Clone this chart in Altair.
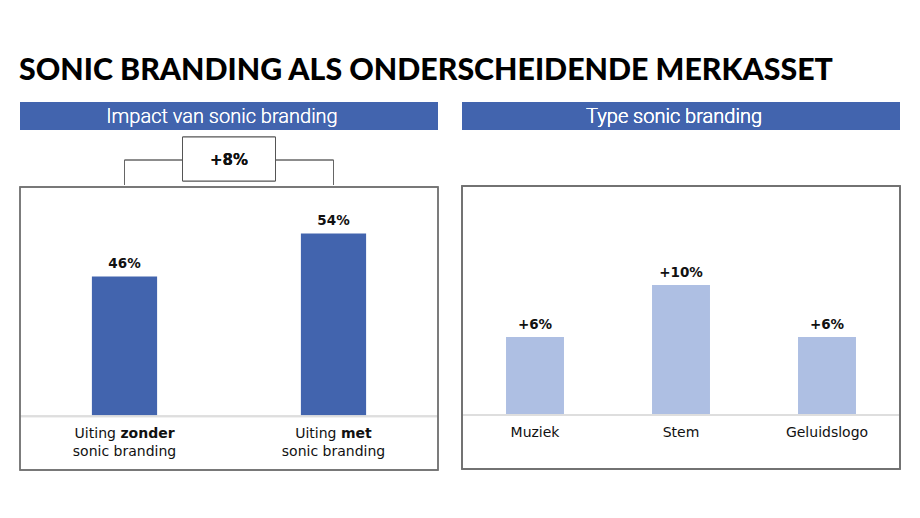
import altair as alt
import pandas as pd

# ---------------- data ----------------
title_text = "SONIC BRANDING ALS ONDERSCHEIDENDE MERKASSET"
head_left = "Impact van sonic branding"
head_right = "Type sonic branding"

impact_keys = ["zonder", "met"]
impact_values = [46, 54]
impact_line1 = ["Uiting", "Uiting"]
impact_line1_bold = ["zonder", "met"]
impact_line2 = ["sonic branding", "sonic branding"]
impact_diff = "+8%"

type_cats = ["Muziek", "Stem", "Geluidslogo"]
type_values = [6, 10, 6]

# ---------------- style ----------------
BLUE = "#4264ae"
LIGHT = "#aebfe3"
FONT = "Lato"
LBL = "DejaVu Sans"
HEAD = "Roboto"
LW, RW = 418, 438
HH = 83
PH = 283
BORDER = "#707070"

left_df = pd.DataFrame({"cat": impact_keys, "v": impact_values, "l1": impact_line1,
                        "l1b": impact_line1_bold, "l2": impact_line2})
left_df["lab"] = left_df["v"].astype(str) + "%"
right_df = pd.DataFrame({"cat": type_cats, "v": type_values})
right_df["lab"] = "+" + right_df["v"].astype(str) + "%"

xl = alt.Scale(domain=impact_keys, paddingInner=0.688, paddingOuter=0.344)
xr = alt.Scale(domain=type_cats, paddingInner=0.603, paddingOuter=0.3015)
yl = alt.Scale(domain=[10, 62.65], nice=False, zero=False)
yr = alt.Scale(domain=[-4.154, 17.615], nice=False, zero=False)

# ---------------- left header with bracket ----------------
hl_base = alt.Chart(left_df)
hl_rect = hl_base.mark_rect(color=BLUE).encode(
    x=alt.value(0), x2=alt.value(LW), y=alt.value(0), y2=alt.value(28))
hl_text = hl_base.mark_text(color="white", font=HEAD, fontWeight=300, fontSize=20,
                            baseline="alphabetic", dx=-7).encode(
    x=alt.value(LW / 2), y=alt.value(21), text=alt.value(head_left))
hl_vert = hl_base.mark_rule(color="#666666", strokeWidth=1).encode(
    x=alt.X("cat:N", scale=xl, axis=None), y=alt.value(58), y2=alt.value(HH))
hl_hor = hl_base.mark_rule(color="#666666", strokeWidth=1).encode(
    x=alt.value(LW / 4), x2=alt.value(3 * LW / 4), y=alt.value(58))
hl_box = hl_base.mark_rect(fill="white", stroke="#555555", strokeWidth=1).encode(
    x=alt.value(LW / 2 - 46.5), x2=alt.value(LW / 2 + 46.5), y=alt.value(35), y2=alt.value(79))
hl_diff = hl_base.mark_text(font=LBL, fontWeight="bold", fontSize=15, baseline="middle", color="#111").encode(
    x=alt.value(LW / 2), y=alt.value(58), text=alt.value(impact_diff))
header_left = alt.layer(hl_rect, hl_text, hl_vert, hl_hor, hl_box, hl_diff).properties(width=LW, height=HH)

# ---------------- right header ----------------
hr_base = alt.Chart(right_df)
hr_rect = hr_base.mark_rect(color=BLUE).encode(
    x=alt.value(0), x2=alt.value(RW), y=alt.value(0), y2=alt.value(28))
hr_text = hr_base.mark_text(color="white", font=HEAD, fontWeight=300, fontSize=20,
                            baseline="alphabetic", dx=-7).encode(
    x=alt.value(RW / 2), y=alt.value(21), text=alt.value(head_right))
header_right = alt.layer(hr_rect, hr_text).properties(width=RW, height=HH)

# ---------------- left panel ----------------
lb = alt.Chart(left_df).encode(x=alt.X("cat:N", scale=xl, axis=None))
l_frame = alt.Chart(left_df).mark_rect(fillOpacity=0, stroke=BORDER, strokeWidth=1.4).encode(
    x=alt.value(0), x2=alt.value(LW), y=alt.value(0), y2=alt.value(PH))
l_base = lb.mark_rule(color="#dedede", strokeWidth=2).encode(
    x=alt.value(0), x2=alt.value(LW), y=alt.datum(20))
l_bars = lb.mark_bar(color=BLUE).encode(
    y=alt.Y("v:Q", scale=yl, axis=None), y2=alt.datum(20))
l_vals = lb.mark_text(font=LBL, fontWeight="bold", fontSize=13.5, baseline="bottom", dy=-5, color="#111").encode(
    y=alt.Y("v:Q"), text="lab:N")
split = {"zonder": -8.6, "met": 3.0}
l_cat_layers = []
for k in impact_keys:
    s = split[k]
    sub = lb.transform_filter(alt.datum.cat == k)
    l_cat_layers.append(sub.mark_text(font=LBL, fontSize=14, align="right",
                                      baseline="middle", dy=18, dx=s, color="#111").encode(
        y=alt.datum(20), text="l1:N"))
    l_cat_layers.append(sub.mark_text(font=LBL, fontWeight="bold", fontSize=14, align="left",
                                      baseline="middle", dy=18, dx=s + 4.5, color="#111").encode(
        y=alt.datum(20), text="l1b:N"))
l_l2 = lb.mark_text(font=LBL, fontSize=14, baseline="middle", dy=36, color="#111").encode(
    y=alt.datum(20), text="l2:N")
panel_left = alt.layer(l_bars, l_base, l_vals, *l_cat_layers, l_l2, l_frame).properties(
    width=LW, height=PH)

# ---------------- right panel ----------------
rb = alt.Chart(right_df).encode(x=alt.X("cat:N", scale=xr, axis=None, sort=type_cats))
r_frame = alt.Chart(right_df).mark_rect(fillOpacity=0, stroke=BORDER, strokeWidth=1.4).encode(
    x=alt.value(0), x2=alt.value(RW), y=alt.value(0), y2=alt.value(PH))
r_base = rb.mark_rule(color="#dedede", strokeWidth=2).encode(
    x=alt.value(0), x2=alt.value(RW), y=alt.datum(0))
r_bars = rb.mark_bar(color=LIGHT).encode(y=alt.Y("v:Q", scale=yr, axis=None), y2=alt.datum(0))
r_vals = rb.mark_text(font=LBL, fontWeight="bold", fontSize=13.5, baseline="bottom", dy=-5, color="#111").encode(
    y=alt.Y("v:Q"), text="lab:N")
r_cats = rb.mark_text(font=LBL, fontSize=14, baseline="middle", dy=18, color="#111").encode(
    y=alt.datum(0), text="cat:N")
panel_right = alt.layer(r_bars, r_base, r_vals, r_cats, r_frame).properties(width=RW, height=PH)

col_left = alt.vconcat(header_left, panel_left, spacing=0)
col_right = alt.vconcat(header_right, panel_right, spacing=0)

chart = alt.hconcat(col_left, col_right, spacing=22).properties(
    title=alt.TitleParams(title_text, anchor="start", font=FONT, fontSize=30.3, fontWeight=900,
                          color="black", offset=16),
    padding={"left": 11, "top": 47, "right": 5, "bottom": 5},
    background="white",
).configure_view(stroke=None)

chart.save("out.html", embed_options={"renderer": "svg", "actions": False})
